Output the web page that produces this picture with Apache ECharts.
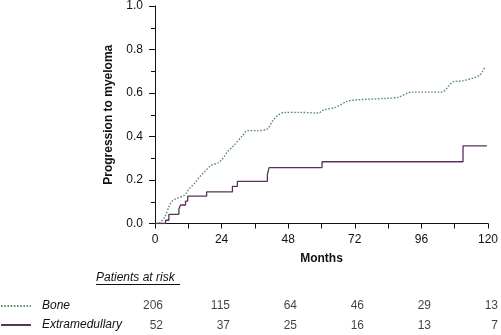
<!DOCTYPE html>
<html>
<head>
<meta charset="utf-8">
<script src="https://cdn.jsdelivr.net/npm/echarts@6/dist/echarts.min.js"></script>
<style>
  html, body { margin: 0; padding: 0; background: #fff; }
  #chart { width: 501px; height: 335px; }
</style>
</head>
<body>
<div id="chart"></div>
<script>
// Cumulative progression curves: [months, proportion]
const boneCurve = [
  [1.5, 0], [3.5, 0.03], [5.3, 0.085], [6.4, 0.105], [8.8, 0.12], [10.6, 0.13],
  [12.4, 0.16], [14.2, 0.184], [16, 0.213], [18.4, 0.245], [20.2, 0.267],
  [22.6, 0.278], [24.4, 0.298], [26.1, 0.33], [28.5, 0.359], [31.5, 0.404],
  [33.3, 0.427], [36.9, 0.427], [40.5, 0.435], [42.3, 0.47], [44.1, 0.496],
  [46.5, 0.511], [51.8, 0.511], [58.9, 0.508], [60.8, 0.522], [65, 0.534],
  [69.1, 0.561], [72.1, 0.568], [82.9, 0.575], [87.6, 0.58], [92.4, 0.604],
  [103.2, 0.604], [107.3, 0.65], [110.9, 0.656], [116.9, 0.681], [118.9, 0.72]
];
const extraCurve = [
  [0, 0], [3.8, 0.015], [5, 0.042], [8.6, 0.067], [9.2, 0.085], [11, 0.103],
  [11.8, 0.126], [18.6, 0.145], [27.9, 0.171], [29.7, 0.194], [40.5, 0.225],
  [41.1, 0.257], [60.2, 0.284], [111, 0.357], [119.6, 0.357]
];

// Patients at risk table
const riskMonths = [0, 24, 48, 72, 96, 120];
const boneAtRisk = [206, 115, 64, 46, 29, 13];
const extraAtRisk = [52, 37, 25, 16, 13, 7];
const groupNames = ['Bone', 'Extramedullary'];

const FONT = '"Liberation Sans", Arial, Helvetica, sans-serif';
const BONE_COLOR = '#5d8f66';
const EXTRA_COLOR = '#573259';

const riskLabel = {
  show: true,
  position: [8, 0],
  align: 'right',
  verticalAlign: 'middle',
  color: '#111',
  fontFamily: FONT,
  fontSize: 12,
  formatter: p => String(p.value[2])
};

const chart = echarts.init(document.getElementById('chart'));
chart.setOption({
  animation: false,
  backgroundColor: '#fff',
  textStyle: { fontFamily: FONT },
  title: {
    text: 'Patients at risk',
    left: 96,
    top: 272,
    padding: 0,
    textStyle: { fontFamily: FONT, fontSize: 12, fontStyle: 'italic', fontWeight: 'normal', color: '#111' }
  },
  legend: {
    data: groupNames,
    orient: 'vertical',
    left: 0,
    top: 300,
    padding: 0,
    itemWidth: 30,
    itemHeight: 14,
    itemGap: 7,
    itemStyle: { opacity: 0 },
    textStyle: { fontFamily: FONT, fontSize: 12, fontStyle: 'italic', color: '#111', padding: [0, 0, 0, 6] },
    selectedMode: false
  },
  grid: [
    { left: 155, right: 11, top: 4.5, bottom: 111.5 },
    { left: 155, right: 11, top: 296, height: 42 }
  ],
  xAxis: [
    {
      gridIndex: 0,
      type: 'value',
      min: 0, max: 120, interval: 24,
      name: 'Months',
      nameLocation: 'middle',
      nameGap: 29,
      nameTextStyle: { fontFamily: FONT, fontSize: 12, fontWeight: 'bold', color: '#111' },
      axisLine: { lineStyle: { color: '#111', width: 1 } },
      axisTick: { length: 5, lineStyle: { color: '#111' } },
      minorTick: { show: true, splitNumber: 2, length: 5, lineStyle: { color: '#111' } },
      axisLabel: { margin: 10, color: '#111', fontSize: 12, fontFamily: FONT },
      splitLine: { show: false }
    },
    {
      gridIndex: 1,
      type: 'value',
      min: 0, max: 120,
      show: false
    }
  ],
  yAxis: [
    {
      gridIndex: 0,
      type: 'value',
      min: 0, max: 1, interval: 0.2,
      name: 'Progression to myeloma',
      nameLocation: 'middle',
      nameGap: 40,
      nameTextStyle: { fontFamily: FONT, fontSize: 12, fontWeight: 'bold', color: '#111' },
      axisLine: { show: true, lineStyle: { color: '#111', width: 1 } },
      axisTick: { show: true, length: 6, lineStyle: { color: '#111' } },
      minorTick: { show: true, splitNumber: 2, length: 4, lineStyle: { color: '#111' } },
      axisLabel: { margin: 12, color: '#111', fontSize: 12, fontFamily: FONT, formatter: v => v.toFixed(1) },
      splitLine: { show: false }
    },
    {
      gridIndex: 1,
      type: 'category',
      data: ['Extramedullary', 'Bone'],
      show: false
    }
  ],
  series: [
    {
      name: 'Bone',
      type: 'line',
      xAxisIndex: 0, yAxisIndex: 0,
      data: boneCurve,
      smooth: 0.3,
      symbol: 'none',
      color: BONE_COLOR,
      lineStyle: { color: BONE_COLOR, width: 1.4, type: [1.6, 1.6] }
    },
    {
      name: 'Extramedullary',
      type: 'line',
      xAxisIndex: 0, yAxisIndex: 0,
      data: extraCurve,
      step: 'end',
      symbol: 'none',
      color: EXTRA_COLOR,
      lineStyle: { color: EXTRA_COLOR, width: 1.3 }
    },
    {
      name: 'Bone at risk',
      type: 'scatter',
      xAxisIndex: 1, yAxisIndex: 1,
      symbolSize: 0,
      silent: true,
      data: riskMonths.map((m, i) => [m, 'Bone', boneAtRisk[i]]),
      label: riskLabel
    },
    {
      name: 'Extramedullary at risk',
      type: 'scatter',
      xAxisIndex: 1, yAxisIndex: 1,
      symbolSize: 0,
      silent: true,
      data: riskMonths.map((m, i) => [m, 'Extramedullary', extraAtRisk[i]]),
      label: riskLabel
    }
  ],
  graphic: [
    {
      type: 'line',
      shape: { x1: 96, y1: 284.5, x2: 180, y2: 284.5 },
      style: { stroke: '#111', lineWidth: 1 },
      silent: true
    }
  ]
});
</script>
</body>
</html>
